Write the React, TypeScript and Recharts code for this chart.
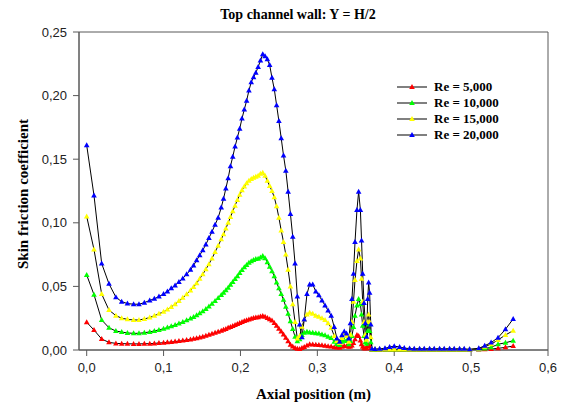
import { LineChart, Line, XAxis, YAxis, Label, Legend, ReferenceArea } from "recharts";

// axial position along the top wall (m), shared by all four runs
const AXIAL_POS = [
  0, 0.0095, 0.0195, 0.029, 0.038, 0.0455, 0.053, 0.061, 0.068, 0.075,
  0.082, 0.088, 0.094, 0.1, 0.105, 0.11, 0.115, 0.12, 0.125, 0.13,
  0.135, 0.139, 0.143, 0.147, 0.151, 0.155, 0.159, 0.163, 0.167, 0.171,
  0.175, 0.178, 0.181, 0.184, 0.187, 0.19, 0.193, 0.196, 0.199, 0.202,
  0.205, 0.208, 0.211, 0.214, 0.217, 0.22, 0.223, 0.226, 0.229, 0.232,
  0.235, 0.238, 0.241, 0.244, 0.247, 0.25, 0.253, 0.256, 0.259, 0.262,
  0.265, 0.268, 0.271, 0.274, 0.277, 0.28, 0.283, 0.2865, 0.29, 0.294,
  0.298, 0.302, 0.306, 0.31, 0.314, 0.318, 0.322, 0.3255, 0.329, 0.332,
  0.335, 0.338, 0.341, 0.343, 0.345, 0.347, 0.349, 0.3515, 0.3537, 0.356,
  0.3575, 0.359, 0.3607, 0.3624, 0.364, 0.3655, 0.3667, 0.368, 0.3695, 0.371,
  0.375, 0.381, 0.388, 0.394, 0.4, 0.407, 0.413, 0.42, 0.426, 0.433,
  0.439, 0.446, 0.452, 0.459, 0.465, 0.472, 0.478, 0.485, 0.491, 0.498,
  0.51, 0.5177, 0.526, 0.535, 0.5447, 0.5547,
];

const CF_RE5000 = [
  0.0218, 0.0157, 0.0086, 0.006, 0.0052, 0.005, 0.0049, 0.0048, 0.0048, 0.0049,
  0.005, 0.0052, 0.0055, 0.0057, 0.006, 0.0063, 0.0066, 0.007, 0.0074, 0.0078,
  0.0083, 0.0088, 0.0093, 0.0099, 0.0105, 0.0112, 0.0119, 0.0127, 0.0135, 0.0143,
  0.0152, 0.0159, 0.0166, 0.0174, 0.0181, 0.0189, 0.0197, 0.0205, 0.0213, 0.022,
  0.0228, 0.0234, 0.024, 0.0245, 0.0252, 0.0255, 0.0258, 0.0263, 0.0267, 0.0262,
  0.0252, 0.0242, 0.0232, 0.0212, 0.019, 0.0168, 0.0145, 0.0122, 0.0096, 0.0068,
  0.0042, 0.0028, 0.0016, 0.0009, 0.0008, 0.0016, 0.0024, 0.0035, 0.0045, 0.0044,
  0.0042, 0.004, 0.0037, 0.0034, 0.003, 0.0027, 0.0022, 0.0019, 0.0018, 0.0025,
  0.0031, 0.003, 0.0026, 0.0028, 0.0035, 0.0055, 0.0085, 0.0118, 0.011, 0.0075,
  0.0045, 0.0025, 0.0013, 0.0012, 0.0015, 0.003, 0.004, 0.003, 0.0012, 0.0002,
  0.0002, 0.0002, 0.0002, 0.0002, 0.0002, 0.0002, 0.0002, 0.0002, 0.0002, 0.0002,
  0.0002, 0.0002, 0.0002, 0.0002, 0.0002, 0.0002, 0.0002, 0.0002, 0.0002, 0.0002,
  0.0004, 0.0006, 0.0008, 0.0013, 0.0021, 0.0031,
];

const CF_RE10000 = [
  0.059, 0.0435, 0.0236, 0.0175, 0.0149, 0.0141, 0.0134, 0.0131, 0.0131, 0.0136,
  0.0142, 0.015, 0.0158, 0.0167, 0.0176, 0.0186, 0.0197, 0.0208, 0.022, 0.0233,
  0.0247, 0.026, 0.0273, 0.0288, 0.0305, 0.0323, 0.0342, 0.0363, 0.0385, 0.0408,
  0.0432, 0.045, 0.047, 0.049, 0.0512, 0.0535, 0.0558, 0.058, 0.0605, 0.0628,
  0.065, 0.0668, 0.0685, 0.0698, 0.0708, 0.0715, 0.0718, 0.0728, 0.0739, 0.0722,
  0.069, 0.0655, 0.062, 0.058, 0.053, 0.0485, 0.044, 0.0395, 0.034, 0.0285,
  0.0226, 0.0165, 0.0105, 0.0068, 0.0085, 0.0118, 0.0135, 0.0144, 0.0138, 0.0135,
  0.0132, 0.013, 0.0122, 0.0115, 0.0105, 0.0095, 0.0065, 0.0048, 0.004, 0.0065,
  0.0079, 0.007, 0.0045, 0.007, 0.011, 0.018, 0.027, 0.035, 0.04, 0.036,
  0.028, 0.019, 0.011, 0.006, 0.005, 0.015, 0.02, 0.015, 0.006, 0.0003,
  0.0003, 0.0003, 0.0003, 0.0003, 0.0003, 0.0003, 0.0003, 0.0003, 0.0003, 0.0003,
  0.0003, 0.0003, 0.0003, 0.0003, 0.0003, 0.0003, 0.0003, 0.0003, 0.0003, 0.0003,
  0.0006, 0.0012, 0.0021, 0.0045, 0.0057, 0.0073,
];

const CF_RE15000 = [
  0.105, 0.079, 0.044, 0.0314, 0.027, 0.025, 0.0241, 0.0236, 0.0236, 0.0244,
  0.0255, 0.027, 0.0285, 0.03, 0.0318, 0.0338, 0.036, 0.0385, 0.041, 0.0438,
  0.0468, 0.0495, 0.0525, 0.056, 0.0595, 0.0635, 0.0675, 0.072, 0.077, 0.082,
  0.087, 0.091, 0.0955, 0.1, 0.1045, 0.109, 0.1135, 0.118, 0.122, 0.1255,
  0.1285, 0.131, 0.133, 0.1345, 0.1355, 0.1362, 0.137, 0.1385, 0.1394, 0.137,
  0.133, 0.129, 0.125, 0.12, 0.113, 0.104, 0.094, 0.085, 0.075, 0.063,
  0.05, 0.036, 0.022, 0.009, 0.011, 0.0183, 0.024, 0.028, 0.0293, 0.0285,
  0.027, 0.0262, 0.025, 0.0235, 0.021, 0.0175, 0.011, 0.007, 0.0055, 0.0095,
  0.013, 0.011, 0.0065, 0.012, 0.022, 0.038, 0.055, 0.07, 0.079, 0.072,
  0.056, 0.038, 0.022, 0.012, 0.008, 0.022, 0.028, 0.022, 0.01, 0.0005,
  0.0005, 0.0005, 0.0005, 0.0005, 0.0005, 0.0005, 0.0005, 0.0005, 0.0005, 0.0005,
  0.0005, 0.0005, 0.0005, 0.0005, 0.0005, 0.0005, 0.0005, 0.0005, 0.0005, 0.0003,
  0.001, 0.0026, 0.0045, 0.0079, 0.0118, 0.0152,
];

const CF_RE20000 = [
  0.161, 0.1215, 0.068, 0.052, 0.0415, 0.038, 0.0365, 0.036, 0.036, 0.0372,
  0.039, 0.0403, 0.042, 0.044, 0.046, 0.0485, 0.0508, 0.0535, 0.0563, 0.0595,
  0.063, 0.0665, 0.0705, 0.0745, 0.0785, 0.083, 0.088, 0.093, 0.0985, 0.104,
  0.112, 0.119, 0.127, 0.135, 0.1445, 0.152, 0.16, 0.167, 0.174, 0.182,
  0.189, 0.196, 0.204, 0.2105, 0.2145, 0.218, 0.2225, 0.2275, 0.2325, 0.231,
  0.2285, 0.224, 0.214, 0.205, 0.1925, 0.18, 0.1665, 0.153, 0.141, 0.1245,
  0.107, 0.089, 0.068, 0.042, 0.02, 0.01, 0.024, 0.044, 0.0515, 0.0515,
  0.046, 0.043, 0.039, 0.035, 0.031, 0.027, 0.018, 0.009, 0.0065, 0.0115,
  0.0145, 0.013, 0.009, 0.021, 0.04, 0.06, 0.085, 0.11, 0.1245, 0.11,
  0.086, 0.06, 0.037, 0.021, 0.0105, 0.04, 0.053, 0.045, 0.02, 0.001,
  0.0008, 0.0009, 0.0013, 0.0024, 0.003, 0.0024, 0.0015, 0.0011, 0.001, 0.001,
  0.001, 0.001, 0.001, 0.001, 0.001, 0.001, 0.001, 0.0009, 0.0009, 0.0006,
  0.0013, 0.0034, 0.0058, 0.0097, 0.0163, 0.0244,
];

const X_TICKS = [0, 0.1, 0.2, 0.3, 0.4, 0.5, 0.6];
const Y_TICKS = [0, 0.05, 0.1, 0.15, 0.2, 0.25];

const SERIES = [
  { key: "re5000", name: "Re = 5,000", color: "#ff0000", values: CF_RE5000 },
  { key: "re10000", name: "Re = 10,000", color: "#00ff00", values: CF_RE10000 },
  { key: "re15000", name: "Re = 15,000", color: "#ffff00", values: CF_RE15000 },
  { key: "re20000", name: "Re = 20,000", color: "#0000ff", values: CF_RE20000 },
];

const chartData = AXIAL_POS.map((x, i) => {
  const row: Record<string, number> = { x };
  SERIES.forEach((s) => {
    row[s.key] = s.values[i];
  });
  return row;
});

const SERIF = '"Liberation Serif", "Times New Roman", serif';
const SANS = '"Liberation Sans", Arial, sans-serif';
const AXIS_GREY = "#595959";

const trianglePoints = (cx: number, cy: number) =>
  `${cx},${cy - 3} ${cx + 2.8},${cy + 2} ${cx - 2.8},${cy + 2}`;

const renderLegend = () => (
  <div style={{ fontFamily: SERIF, fontWeight: "bold", fontSize: 13, color: "#000" }}>
    {SERIES.map((s) => (
      <div key={s.key} style={{ display: "flex", alignItems: "center", height: 16 }}>
        <svg width={30} height={10}>
          <line x1={0} y1={5} x2={30} y2={5} stroke="#808080" strokeWidth={2} />
          <polygon points={trianglePoints(15, 5)} fill={s.color} />
        </svg>
        <span style={{ marginLeft: 7 }}>{s.name}</span>
      </div>
    ))}
  </div>
);

export default function App() {
  return (
    <div style={{ position: "absolute", left: 0, top: 0, width: 561, height: 403, background: "#fff" }}>
      <div
        style={{
          position: "absolute",
          left: 198,
          top: 7,
          width: 200,
          textAlign: "center",
          fontFamily: SERIF,
          fontWeight: "bold",
          fontSize: 14,
        }}
      >
        Top channel wall: Y = H/2
      </div>
      <LineChart
        width={561}
        height={403}
        data={chartData}
        margin={{ top: 32, right: 13, bottom: 0, left: 0 }}
      >
        <XAxis
          type="number"
          dataKey="x"
          domain={[-0.01, 0.6]}
          ticks={X_TICKS}
          allowDataOverflow
          height={53}
          tickFormatter={(v: number) => v.toFixed(1).replace(".", ",")}
          tick={{ fill: "#222", fontSize: 13, fontFamily: SANS }}
          tickSize={6}
          tickMargin={7}
          stroke={AXIS_GREY}
        >
          <Label
            value="Axial position (m)"
            position="insideBottom"
            offset={4}
            style={{ fontFamily: SERIF, fontWeight: "bold", fontSize: 15, fill: "#000" }}
          />
        </XAxis>
        <YAxis
          type="number"
          domain={[0, 0.25]}
          ticks={Y_TICKS}
          width={79}
          tickFormatter={(v: number) => v.toFixed(2).replace(".", ",")}
          tick={{ fill: "#222", fontSize: 13, fontFamily: SANS }}
          tickSize={6}
          tickMargin={6}
          stroke={AXIS_GREY}
        >
          <Label
            content={() => (
              <text
                x={28}
                y={194}
                transform="rotate(-90 28 194)"
                textAnchor="middle"
                fontFamily={SERIF}
                fontWeight="bold"
                fontSize={15}
                fill="#000"
              >
                Skin friction coefficient
              </text>
            )}
          />
        </YAxis>
        <ReferenceArea x1={-0.01} x2={0.6} y1={0} y2={0.25} fill="none" stroke={AXIS_GREY} strokeWidth={1} />
        <Legend
          content={renderLegend}
          layout="vertical"
          verticalAlign="middle"
          align="center"
          wrapperStyle={{ left: 397, top: 79, width: 140 }}
        />
        {SERIES.map((s) => (
          <Line
            key={s.key}
            dataKey={s.key}
            name={s.name}
            type="linear"
            stroke="#000"
            strokeWidth={1}
            isAnimationActive={false}
            activeDot={false}
            dot={(p: any) => (
              <polygon key={`${s.key}-${p.index}`} points={trianglePoints(p.cx, p.cy)} fill={s.color} />
            )}
          />
        ))}
      </LineChart>
    </div>
  );
}
